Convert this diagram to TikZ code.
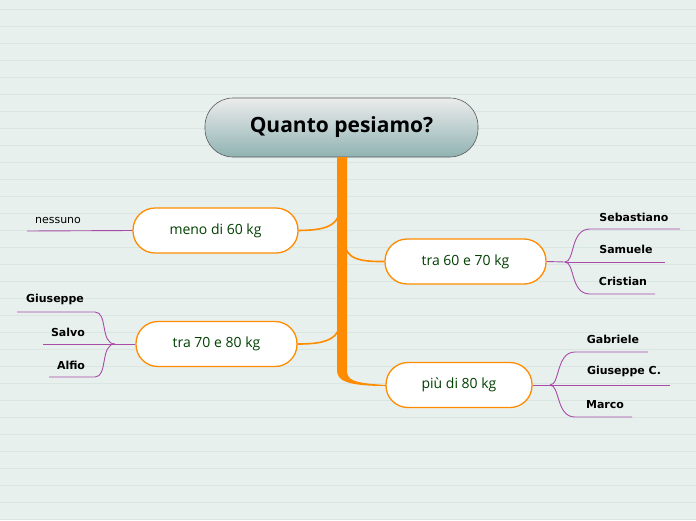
\documentclass[tikz,border=0pt]{standalone}
\usepackage{fontspec}
\setmainfont{Open Sans}
\newfontfamily\leaf{DejaVu Sans}
\begin{document}
\begin{tikzpicture}[x=1pt,y=-1pt,
  bx/.style={draw=orange!90!yellow,line width=1.3pt,rounded corners=22pt,fill=white,minimum height=45pt,font=\fontsize{14}{16}\selectfont,text=green!25!black},
  lf/.style={font=\leaf\bfseries\fontsize{11}{13}\selectfont,anchor=south},
  pl/.style={draw=violet!70,line width=0.9pt},
  br/.style={draw=orange!90!yellow,line width=1.6pt}]
\definecolor{bgc}{HTML}{E8F0EE}
\definecolor{bgl}{HTML}{D9E6E2}
\fill[bgc] (0,0) rectangle (696,520);
\useasboundingbox (0,0) rectangle (696,520);
\foreach \y in {9,26,...,520} \draw[bgl,line width=0.8pt] (0,\y)--(696,\y);
\node[draw=gray!70!black,line width=0.6pt,rounded corners=28pt,top color=gray!15,bottom color=gray!55!teal!60,minimum width=273pt,minimum height=59pt,font=\bfseries\fontsize{21}{25}\selectfont] (root) at (341.5,127.5) {Quanto pesiamo?};
\node[bx,minimum width=165pt] (a) at (215.5,230.5) {meno di 60 kg};
\node[bx,minimum width=161pt] (b) at (465.5,261.5) {tra 60 e 70 kg};
\node[bx,minimum width=161pt] (c) at (216.5,344) {tra 70 e 80 kg};
\node[bx,minimum width=146pt] (d) at (459,385) {più di 80 kg};
\fill[orange!90!yellow] (337,157) -- (347,157) -- (347,370) .. controls (347,380) and (352,383) .. (386,385) -- (386,386) .. controls (345,386) and (337,380) .. (337,370) -- cycle;
\draw[br] (a.east) .. controls (330,230) and (341,225) .. (341,200);
\draw[br] (b.west) .. controls (350,262) and (344,255) .. (344,235);
\draw[br] (c.east) .. controls (330,344) and (341,338) .. (341,315);
\coordinate (n0) at (27,231);
\draw[pl] (a.west) -- (n0);
\node[font=\leaf\fontsize{11}{13}\selectfont,anchor=south] (n) at (58,227) {nessuno};
\coordinate (f1) at (115,344);
\draw[pl] (c.west) -- (f1);
\coordinate (g0) at (17,312);\coordinate (s0) at (43,344);\coordinate (al0) at (49,377);
\draw[pl] (f1) .. controls (100,344) and (108,312) .. (95,312) -- (g0);
\draw[pl] (f1) -- (s0);
\draw[pl] (f1) .. controls (100,344) and (108,377) .. (95,377) -- (al0);
\node[lf] (g) at (55,308) {Giuseppe};
\node[lf] (s) at (68,340) {Salvo};
\node[lf] (al) at (71,373) {Alfio};
\coordinate (f2) at (565,262);
\draw[pl] (b.east) -- (f2);
\coordinate (se0) at (680,229);\coordinate (sa0) at (665,262);\coordinate (cr0) at (655,294);
\draw[pl] (f2) .. controls (575,262) and (570,229) .. (590,229) -- (se0);
\draw[pl] (f2) -- (sa0);
\draw[pl] (f2) .. controls (575,262) and (570,294) .. (590,294) -- (cr0);
\node[lf] (se) at (634,225) {Sebastiano};
\node[lf] (sa) at (626,257) {Samuele};
\node[lf] (cr) at (623,289) {Cristian};
\coordinate (f3) at (550,385);
\draw[pl] (d.east) -- (f3);
\coordinate (ga0) at (648,352);\coordinate (gc0) at (670,385);\coordinate (ma0) at (632,417);
\draw[pl] (f3) .. controls (560,385) and (556,352) .. (575,352) -- (ga0);
\draw[pl] (f3) -- (gc0);
\draw[pl] (f3) .. controls (560,385) and (556,417) .. (575,417) -- (ma0);
\node[lf] (ga) at (613,347) {Gabriele};
\node[lf] (gc) at (624,380) {Giuseppe C.};
\node[lf] (ma) at (605,412) {Marco};
\end{tikzpicture}
\end{document}
